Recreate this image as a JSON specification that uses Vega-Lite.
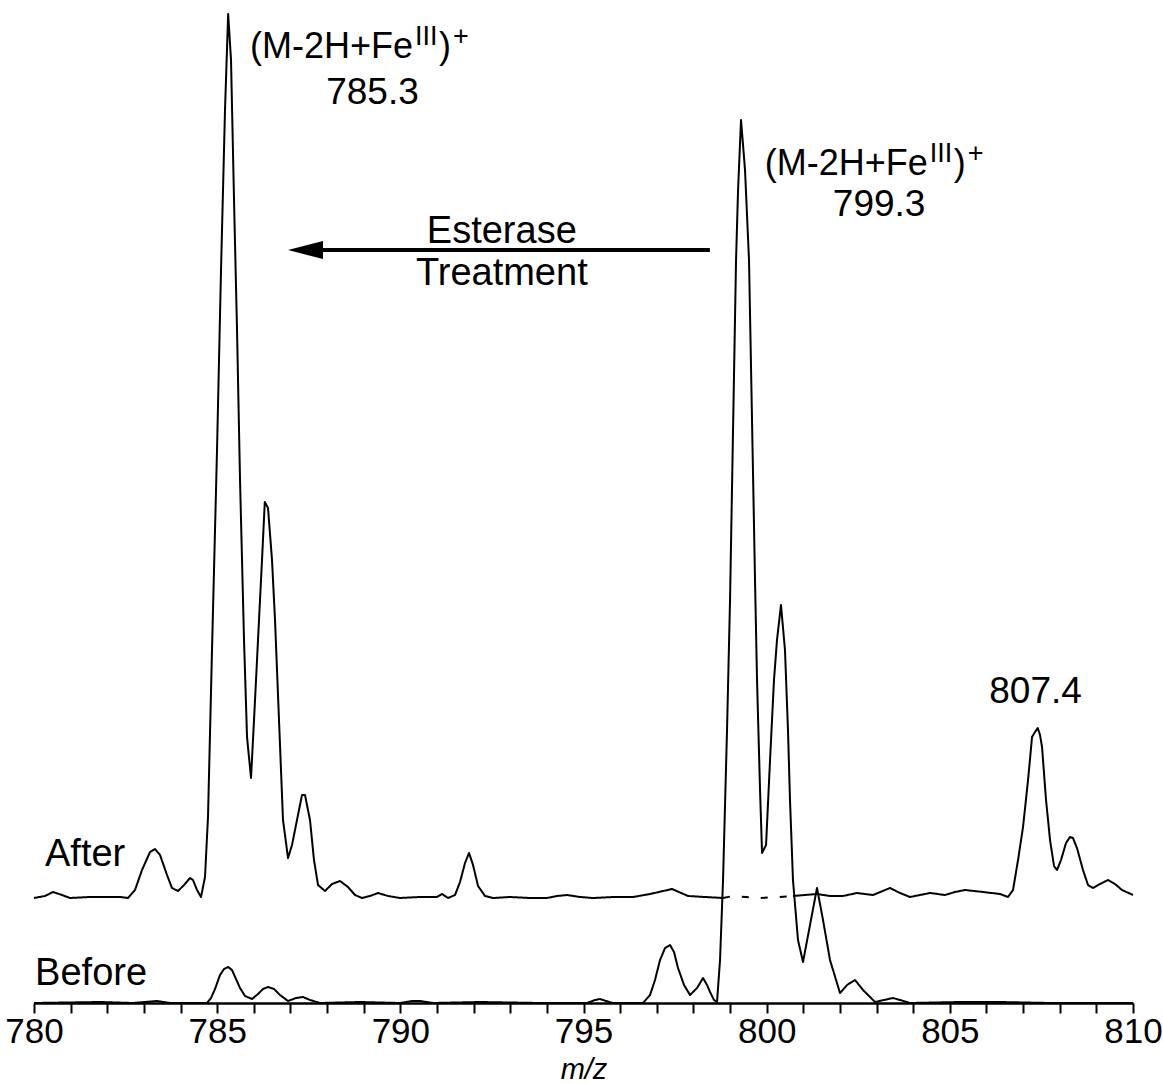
{
  "$schema": "https://vega.github.io/schema/vega-lite/v6.json",
  "width": 1099,
  "height": 1003,
  "autosize": {"type": "none"},
  "padding": {"left": 34, "top": 0, "right": 30, "bottom": 81},
  "background": "white",
  "config": {
    "view": {"stroke": null},
    "font": "Liberation Sans",
    "text": {"font": "Liberation Sans", "color": "black"}
  },
  "datasets": {
    "spectra": [
      {"run": "after-a", "mz": 780.000, "sig": 105},
      {"run": "after-a", "mz": 780.300, "sig": 107},
      {"run": "after-a", "mz": 780.519, "sig": 111},
      {"run": "after-a", "mz": 780.764, "sig": 108},
      {"run": "after-a", "mz": 780.983, "sig": 105},
      {"run": "after-a", "mz": 781.529, "sig": 106},
      {"run": "after-a", "mz": 781.993, "sig": 106},
      {"run": "after-a", "mz": 782.348, "sig": 106},
      {"run": "after-a", "mz": 782.566, "sig": 105},
      {"run": "after-a", "mz": 782.757, "sig": 113},
      {"run": "after-a", "mz": 782.948, "sig": 133},
      {"run": "after-a", "mz": 783.167, "sig": 151},
      {"run": "after-a", "mz": 783.303, "sig": 154},
      {"run": "after-a", "mz": 783.440, "sig": 148},
      {"run": "after-a", "mz": 783.631, "sig": 128},
      {"run": "after-a", "mz": 783.767, "sig": 115},
      {"run": "after-a", "mz": 783.931, "sig": 112},
      {"run": "after-a", "mz": 784.095, "sig": 118},
      {"run": "after-a", "mz": 784.259, "sig": 125},
      {"run": "after-a", "mz": 784.340, "sig": 123},
      {"run": "after-a", "mz": 784.450, "sig": 113},
      {"run": "after-a", "mz": 784.559, "sig": 106},
      {"run": "after-a", "mz": 784.668, "sig": 126},
      {"run": "after-a", "mz": 784.750, "sig": 186},
      {"run": "after-a", "mz": 784.859, "sig": 353},
      {"run": "after-a", "mz": 784.996, "sig": 553},
      {"run": "after-a", "mz": 785.105, "sig": 733},
      {"run": "after-a", "mz": 785.214, "sig": 893},
      {"run": "after-a", "mz": 785.300, "sig": 989},
      {"run": "after-a", "mz": 785.378, "sig": 943},
      {"run": "after-a", "mz": 785.460, "sig": 803},
      {"run": "after-a", "mz": 785.542, "sig": 673},
      {"run": "after-a", "mz": 785.624, "sig": 523},
      {"run": "after-a", "mz": 785.733, "sig": 363},
      {"run": "after-a", "mz": 785.815, "sig": 266},
      {"run": "after-a", "mz": 785.924, "sig": 225},
      {"run": "after-a", "mz": 786.006, "sig": 283},
      {"run": "after-a", "mz": 786.115, "sig": 363},
      {"run": "after-a", "mz": 786.224, "sig": 443},
      {"run": "after-a", "mz": 786.300, "sig": 501},
      {"run": "after-a", "mz": 786.388, "sig": 495},
      {"run": "after-a", "mz": 786.497, "sig": 443},
      {"run": "after-a", "mz": 786.579, "sig": 383},
      {"run": "after-a", "mz": 786.688, "sig": 283},
      {"run": "after-a", "mz": 786.797, "sig": 183},
      {"run": "after-a", "mz": 786.934, "sig": 145},
      {"run": "after-a", "mz": 787.043, "sig": 158},
      {"run": "after-a", "mz": 787.179, "sig": 183},
      {"run": "after-a", "mz": 787.316, "sig": 208},
      {"run": "after-a", "mz": 787.398, "sig": 208},
      {"run": "after-a", "mz": 787.534, "sig": 183},
      {"run": "after-a", "mz": 787.643, "sig": 143},
      {"run": "after-a", "mz": 787.753, "sig": 118},
      {"run": "after-a", "mz": 787.944, "sig": 112},
      {"run": "after-a", "mz": 788.135, "sig": 119},
      {"run": "after-a", "mz": 788.353, "sig": 122},
      {"run": "after-a", "mz": 788.572, "sig": 116},
      {"run": "after-a", "mz": 788.763, "sig": 108},
      {"run": "after-a", "mz": 788.954, "sig": 105},
      {"run": "after-a", "mz": 789.172, "sig": 107},
      {"run": "after-a", "mz": 789.391, "sig": 110},
      {"run": "after-a", "mz": 789.664, "sig": 107},
      {"run": "after-a", "mz": 789.991, "sig": 105},
      {"run": "after-a", "mz": 790.537, "sig": 106},
      {"run": "after-a", "mz": 791.001, "sig": 106},
      {"run": "after-a", "mz": 791.138, "sig": 109},
      {"run": "after-a", "mz": 791.302, "sig": 105},
      {"run": "after-a", "mz": 791.493, "sig": 108},
      {"run": "after-a", "mz": 791.629, "sig": 121},
      {"run": "after-a", "mz": 791.766, "sig": 140},
      {"run": "after-a", "mz": 791.875, "sig": 150},
      {"run": "after-a", "mz": 791.984, "sig": 138},
      {"run": "after-a", "mz": 792.121, "sig": 117},
      {"run": "after-a", "mz": 792.312, "sig": 107},
      {"run": "after-a", "mz": 792.530, "sig": 105},
      {"run": "after-a", "mz": 792.994, "sig": 106},
      {"run": "after-a", "mz": 793.540, "sig": 105},
      {"run": "after-a", "mz": 794.004, "sig": 105},
      {"run": "after-a", "mz": 794.277, "sig": 107},
      {"run": "after-a", "mz": 794.550, "sig": 108},
      {"run": "after-a", "mz": 794.905, "sig": 106},
      {"run": "after-a", "mz": 795.260, "sig": 105},
      {"run": "after-a", "mz": 795.806, "sig": 106},
      {"run": "after-a", "mz": 796.352, "sig": 106},
      {"run": "after-a", "mz": 796.816, "sig": 109},
      {"run": "after-a", "mz": 797.417, "sig": 114},
      {"run": "after-a", "mz": 797.853, "sig": 107},
      {"run": "after-a", "mz": 798.317, "sig": 106},
      {"run": "after-a", "mz": 798.809, "sig": 105},
      {"run": "after-gap", "mz": 798.809, "sig": 105},
      {"run": "after-gap", "mz": 799.082, "sig": 107},
      {"run": "after-gap", "mz": 799.436, "sig": 106},
      {"run": "after-gap", "mz": 799.819, "sig": 105},
      {"run": "after-gap", "mz": 800.310, "sig": 106},
      {"run": "after-gap", "mz": 800.718, "sig": 107},
      {"run": "after-b", "mz": 800.718, "sig": 107},
      {"run": "after-b", "mz": 801.046, "sig": 108},
      {"run": "after-b", "mz": 801.374, "sig": 109},
      {"run": "after-b", "mz": 801.729, "sig": 107},
      {"run": "after-b", "mz": 802.084, "sig": 107},
      {"run": "after-b", "mz": 802.467, "sig": 110},
      {"run": "after-b", "mz": 802.903, "sig": 108},
      {"run": "after-b", "mz": 803.367, "sig": 115},
      {"run": "after-b", "mz": 803.640, "sig": 110},
      {"run": "after-b", "mz": 803.913, "sig": 106},
      {"run": "after-b", "mz": 804.459, "sig": 110},
      {"run": "after-b", "mz": 804.869, "sig": 108},
      {"run": "after-b", "mz": 805.142, "sig": 111},
      {"run": "after-b", "mz": 805.415, "sig": 113},
      {"run": "after-b", "mz": 805.906, "sig": 111},
      {"run": "after-b", "mz": 806.370, "sig": 109},
      {"run": "after-b", "mz": 806.589, "sig": 106},
      {"run": "after-b", "mz": 806.725, "sig": 113},
      {"run": "after-b", "mz": 806.862, "sig": 143},
      {"run": "after-b", "mz": 806.998, "sig": 176},
      {"run": "after-b", "mz": 807.135, "sig": 223},
      {"run": "after-b", "mz": 807.244, "sig": 266},
      {"run": "after-b", "mz": 807.326, "sig": 271},
      {"run": "after-b", "mz": 807.400, "sig": 275},
      {"run": "after-b", "mz": 807.462, "sig": 268},
      {"run": "after-b", "mz": 807.517, "sig": 256},
      {"run": "after-b", "mz": 807.626, "sig": 203},
      {"run": "after-b", "mz": 807.735, "sig": 163},
      {"run": "after-b", "mz": 807.844, "sig": 137},
      {"run": "after-b", "mz": 807.926, "sig": 133},
      {"run": "after-b", "mz": 808.035, "sig": 143},
      {"run": "after-b", "mz": 808.171, "sig": 160},
      {"run": "after-b", "mz": 808.280, "sig": 166},
      {"run": "after-b", "mz": 808.362, "sig": 165},
      {"run": "after-b", "mz": 808.471, "sig": 155},
      {"run": "after-b", "mz": 808.635, "sig": 133},
      {"run": "after-b", "mz": 808.772, "sig": 118},
      {"run": "after-b", "mz": 808.909, "sig": 115},
      {"run": "after-b", "mz": 809.100, "sig": 119},
      {"run": "after-b", "mz": 809.319, "sig": 123},
      {"run": "after-b", "mz": 809.510, "sig": 119},
      {"run": "after-b", "mz": 809.700, "sig": 113},
      {"run": "after-b", "mz": 810.000, "sig": 108},
      {"run": "before", "mz": 780.000, "sig": 0},
      {"run": "before", "mz": 781.802, "sig": 1},
      {"run": "before", "mz": 782.703, "sig": 0},
      {"run": "before", "mz": 783.030, "sig": 1},
      {"run": "before", "mz": 783.358, "sig": 2},
      {"run": "before", "mz": 783.713, "sig": 0},
      {"run": "before", "mz": 784.723, "sig": 0},
      {"run": "before", "mz": 784.832, "sig": 5},
      {"run": "before", "mz": 784.941, "sig": 14},
      {"run": "before", "mz": 785.078, "sig": 28},
      {"run": "before", "mz": 785.187, "sig": 34},
      {"run": "before", "mz": 785.300, "sig": 36},
      {"run": "before", "mz": 785.405, "sig": 33},
      {"run": "before", "mz": 785.514, "sig": 24},
      {"run": "before", "mz": 785.624, "sig": 15},
      {"run": "before", "mz": 785.760, "sig": 7},
      {"run": "before", "mz": 785.951, "sig": 4},
      {"run": "before", "mz": 786.115, "sig": 9},
      {"run": "before", "mz": 786.251, "sig": 14},
      {"run": "before", "mz": 786.388, "sig": 16},
      {"run": "before", "mz": 786.552, "sig": 14},
      {"run": "before", "mz": 786.716, "sig": 8},
      {"run": "before", "mz": 786.934, "sig": 2},
      {"run": "before", "mz": 787.152, "sig": 5},
      {"run": "before", "mz": 787.343, "sig": 6},
      {"run": "before", "mz": 787.534, "sig": 3},
      {"run": "before", "mz": 787.807, "sig": 0},
      {"run": "before", "mz": 788.899, "sig": 1},
      {"run": "before", "mz": 789.991, "sig": 0},
      {"run": "before", "mz": 790.319, "sig": 2},
      {"run": "before", "mz": 790.537, "sig": 2},
      {"run": "before", "mz": 790.892, "sig": 0},
      {"run": "before", "mz": 792.175, "sig": 1},
      {"run": "before", "mz": 793.813, "sig": 0},
      {"run": "before", "mz": 795.096, "sig": 0},
      {"run": "before", "mz": 795.315, "sig": 3},
      {"run": "before", "mz": 795.452, "sig": 4},
      {"run": "before", "mz": 795.615, "sig": 2},
      {"run": "before", "mz": 795.806, "sig": 0},
      {"run": "before", "mz": 796.624, "sig": 0},
      {"run": "before", "mz": 796.816, "sig": 8},
      {"run": "before", "mz": 796.952, "sig": 23},
      {"run": "before", "mz": 797.089, "sig": 43},
      {"run": "before", "mz": 797.226, "sig": 55},
      {"run": "before", "mz": 797.362, "sig": 58},
      {"run": "before", "mz": 797.471, "sig": 51},
      {"run": "before", "mz": 797.580, "sig": 35},
      {"run": "before", "mz": 797.744, "sig": 18},
      {"run": "before", "mz": 797.908, "sig": 8},
      {"run": "before", "mz": 798.099, "sig": 15},
      {"run": "before", "mz": 798.263, "sig": 25},
      {"run": "before", "mz": 798.372, "sig": 18},
      {"run": "before", "mz": 798.454, "sig": 11},
      {"run": "before", "mz": 798.563, "sig": 3},
      {"run": "before", "mz": 798.645, "sig": 1},
      {"run": "before", "mz": 798.727, "sig": 43},
      {"run": "before", "mz": 798.809, "sig": 123},
      {"run": "before", "mz": 798.918, "sig": 273},
      {"run": "before", "mz": 799.000, "sig": 403},
      {"run": "before", "mz": 799.082, "sig": 573},
      {"run": "before", "mz": 799.164, "sig": 743},
      {"run": "before", "mz": 799.219, "sig": 813},
      {"run": "before", "mz": 799.300, "sig": 883},
      {"run": "before", "mz": 799.409, "sig": 833},
      {"run": "before", "mz": 799.518, "sig": 743},
      {"run": "before", "mz": 799.600, "sig": 583},
      {"run": "before", "mz": 799.682, "sig": 423},
      {"run": "before", "mz": 799.737, "sig": 323},
      {"run": "before", "mz": 799.819, "sig": 213},
      {"run": "before", "mz": 799.874, "sig": 150},
      {"run": "before", "mz": 799.983, "sig": 158},
      {"run": "before", "mz": 800.092, "sig": 243},
      {"run": "before", "mz": 800.200, "sig": 323},
      {"run": "before", "mz": 800.282, "sig": 363},
      {"run": "before", "mz": 800.391, "sig": 398},
      {"run": "before", "mz": 800.500, "sig": 353},
      {"run": "before", "mz": 800.582, "sig": 273},
      {"run": "before", "mz": 800.637, "sig": 203},
      {"run": "before", "mz": 800.718, "sig": 123},
      {"run": "before", "mz": 800.855, "sig": 63},
      {"run": "before", "mz": 800.992, "sig": 41},
      {"run": "before", "mz": 801.183, "sig": 78},
      {"run": "before", "mz": 801.374, "sig": 115},
      {"run": "before", "mz": 801.538, "sig": 83},
      {"run": "before", "mz": 801.729, "sig": 43},
      {"run": "before", "mz": 802.002, "sig": 10},
      {"run": "before", "mz": 802.193, "sig": 18},
      {"run": "before", "mz": 802.412, "sig": 23},
      {"run": "before", "mz": 802.630, "sig": 13},
      {"run": "before", "mz": 802.958, "sig": 1},
      {"run": "before", "mz": 803.204, "sig": 3},
      {"run": "before", "mz": 803.449, "sig": 5},
      {"run": "before", "mz": 803.640, "sig": 3},
      {"run": "before", "mz": 803.913, "sig": 0},
      {"run": "before", "mz": 805.278, "sig": 1},
      {"run": "before", "mz": 806.370, "sig": 1},
      {"run": "before", "mz": 807.735, "sig": 0},
      {"run": "before", "mz": 810.000, "sig": 0}
    ],
    "peakLabels": [
      {"mz": 789.24, "sig": 899, "text": "785.3"},
      {"mz": 803.07, "sig": 787, "text": "799.3"},
      {"mz": 807.34, "sig": 300, "text": "807.4"}
    ],
    "arrowLabels": [
      {"mz": 792.77, "sig": 760, "text": "Esterase"},
      {"mz": 792.77, "sig": 718, "text": "Treatment"}
    ],
    "ionLabels": [
      {"mz": 790.346, "sig": 945},
      {"mz": 804.40, "sig": 828}
    ],
    "traceLabels": [
      {"mz": 780.30, "sig": 137, "text": "After"},
      {"mz": 780.03, "sig": 18, "text": "Before"}
    ],
    "arrowShaft": [
      {"mz": 787.80, "mz2": 798.45, "sig": 753}
    ],
    "arrowHead": [
      {"mz": 787.411, "sig": 753}
    ]
  },
  "encoding": {
    "x": {
      "field": "mz",
      "type": "quantitative",
      "scale": {"domain": [780, 810], "nice": false, "zero": false},
      "axis": {
        "values": [780, 781, 782, 783, 784, 785, 786, 787, 788, 789, 790, 791, 792, 793, 794, 795, 796, 797, 798, 799, 800, 801, 802, 803, 804, 805, 806, 807, 808, 809, 810],
        "format": "d",
        "labelExpr": "datum.value % 5 === 0 ? datum.label : ''",
        "labelFont": "Liberation Sans",
        "labelFontSize": 35,
        "labelColor": "black",
        "labelPadding": 1,
        "labelOverlap": false,
        "labelFlush": false,
        "tickColor": "black",
        "tickWidth": 2,
        "tickSize": 10,
        "domainColor": "black",
        "domainWidth": 2.5,
        "grid": false,
        "title": "m/z",
        "titleFont": "Liberation Sans",
        "titleFontStyle": "italic",
        "titleFontWeight": "normal",
        "titleFontSize": 29,
        "titleColor": "black",
        "titlePadding": 6
      }
    },
    "y": {
      "field": "sig",
      "type": "quantitative",
      "scale": {"domain": [0, 1003], "nice": false},
      "axis": null
    }
  },
  "layer": [
    {
      "data": {"name": "spectra"},
      "mark": {"type": "line", "color": "black", "strokeWidth": 2, "strokeJoin": "round"},
      "encoding": {
        "detail": {"field": "run", "type": "nominal"},
        "strokeDash": {
          "field": "run",
          "type": "nominal",
          "scale": {
            "domain": ["after-a", "after-gap", "after-b", "before"],
            "range": [[1, 0], [7, 12], [1, 0], [1, 0]]
          },
          "legend": null
        }
      }
    },
    {
      "data": {"name": "arrowShaft"},
      "mark": {"type": "rule", "color": "black", "strokeWidth": 4},
      "encoding": {"x2": {"field": "mz2"}}
    },
    {
      "data": {"name": "arrowHead"},
      "mark": {
        "type": "point",
        "shape": "M -1 0 L 1 -0.52 L 1 0.52 Z",
        "size": 1225,
        "filled": true,
        "color": "black",
        "opacity": 1,
        "strokeWidth": 0
      }
    },
    {
      "data": {"name": "peakLabels"},
      "mark": {"type": "text", "fontSize": 37, "align": "center", "baseline": "alphabetic"},
      "encoding": {"text": {"field": "text"}}
    },
    {
      "data": {"name": "arrowLabels"},
      "mark": {"type": "text", "fontSize": 38, "align": "center", "baseline": "alphabetic"},
      "encoding": {"text": {"field": "text"}}
    },
    {
      "data": {"name": "traceLabels"},
      "mark": {"type": "text", "fontSize": 38, "align": "left", "baseline": "alphabetic"},
      "encoding": {"text": {"field": "text"}}
    },
    {
      "data": {"name": "ionLabels"},
      "mark": {"type": "text", "fontSize": 36, "align": "right", "baseline": "alphabetic", "text": "(M-2H+Fe"}
    },
    {
      "data": {"name": "ionLabels"},
      "mark": {"type": "text", "fontSize": 27, "align": "left", "baseline": "alphabetic", "dx": 2, "dy": -13, "text": "III"}
    },
    {
      "data": {"name": "ionLabels"},
      "mark": {"type": "text", "fontSize": 36, "align": "left", "baseline": "alphabetic", "dx": 26, "text": ")"}
    },
    {
      "data": {"name": "ionLabels"},
      "mark": {"type": "text", "fontSize": 27, "align": "left", "baseline": "alphabetic", "dx": 40, "dy": -13, "text": "+"}
    }
  ]
}
